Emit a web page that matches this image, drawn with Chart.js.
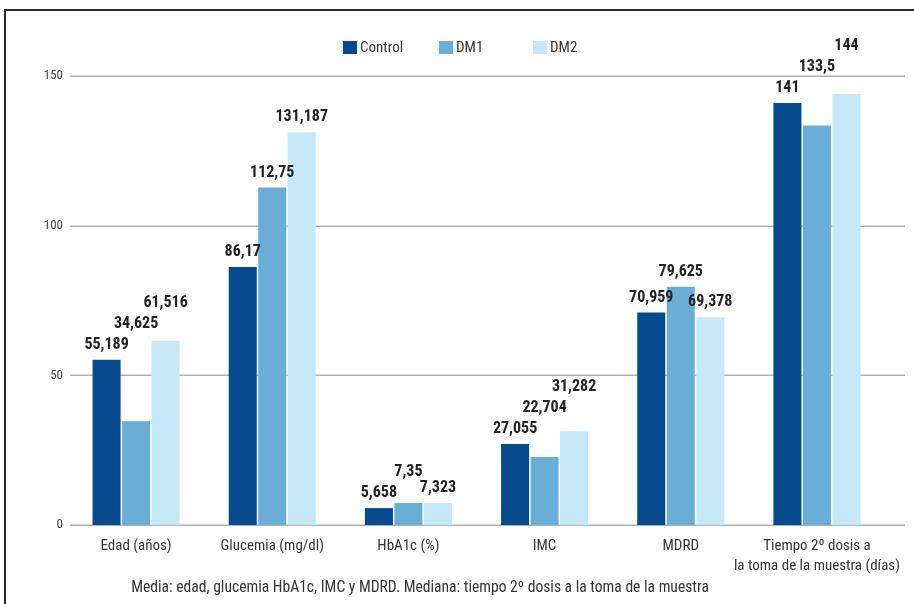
<!DOCTYPE html>
<html>
<head>
<meta charset="utf-8">
<script src="https://cdn.jsdelivr.net/npm/chart.js@4/dist/chart.umd.min.js"></script>
<style>
html,body{margin:0;padding:0;background:#fff;}
#wrap{width:914px;height:604px;position:relative;}
</style>
</head>
<body>
<div id="wrap"><canvas id="c" width="914" height="604"></canvas></div>
<script>
const categories = ['Edad (años)', 'Glucemia (mg/dl)', 'HbA1c (%)', 'IMC', 'MDRD', ['Tiempo 2º dosis a', 'la toma de la muestra (días)']];
const seriesNames = ['Control', 'DM1', 'DM2'];
const control = [55.189, 86.17, 5.658, 27.055, 70.959, 141];
const dm1 = [34.625, 112.75, 7.35, 22.704, 79.625, 133.5];
const dm2 = [61.516, 131.187, 7.323, 31.282, 69.378, 144];
const yTicks = [0, 50, 100, 150];
const footnote = 'Media: edad, glucemia HbA1c, IMC y MDRD. Mediana: tiempo 2º dosis a la toma de la muestra';

const colors = ['#034a8f', '#6aaed6', '#c6e8f8'];
const FONT = "'Liberation Sans Narrow', 'Roboto Condensed', 'DejaVu Sans Condensed', 'Arial Narrow', Roboto, sans-serif";

const fmt = v => String(v).replace('.', ',');

const decor = {
  id: 'decor',
  beforeDraw(chart) {
    const ctx = chart.ctx;
    ctx.save();
    ctx.fillStyle = '#fff';
    ctx.fillRect(0, 0, chart.width, chart.height);
    ctx.strokeStyle = '#2a2a2a';
    ctx.lineWidth = 2;
    ctx.strokeRect(5, 10, chart.width + 20, chart.height + 20);
    ctx.restore();
  },
  beforeDatasetsDraw(chart) {
    const ctx = chart.ctx, y = chart.scales.y, a = chart.chartArea;
    ctx.save();
    ctx.strokeStyle = '#b0b0b0';
    ctx.lineWidth = 1.5;
    yTicks.forEach(t => {
      const py = Math.round(y.getPixelForValue(t)) + 0.25;
      ctx.beginPath();
      ctx.moveTo(a.left + 2, py);
      ctx.lineTo(a.right + 20, py);
      ctx.stroke();
    });
    ctx.restore();
  },
  afterDatasetsDraw(chart) {
    const ctx = chart.ctx;
    ctx.save();
    ctx.font = "bold 16px " + FONT;
    ctx.fillStyle = '#222';
    ctx.textAlign = 'center';
    ctx.textBaseline = 'middle';
    const step = 21;
    for (let c = 0; c < categories.length; c++) {
      let prevY = null, prevV = null;
      chart.data.datasets.forEach((ds, i) => {
        const bar = chart.getDatasetMeta(i).data[c];
        const v = ds.data[c];
        let ly = bar.y - 15;
        if (prevY !== null && (i === 1 || v > prevV)) ly = Math.min(ly, prevY - step);
        ctx.fillText(fmt(v), bar.x, ly);
        prevY = ly; prevV = v;
      });
    }
    ctx.restore();
  },
  afterDraw(chart) {
    const ctx = chart.ctx;
    ctx.save();
    const lx = [343, 439, 533];
    ctx.font = "15px " + FONT;
    ctx.textBaseline = 'middle';
    ctx.textAlign = 'left';
    chart.data.datasets.forEach((ds, i) => {
      ctx.fillStyle = ds.backgroundColor;
      ctx.fillRect(lx[i], 41, 14, 13);
      ctx.fillStyle = '#333';
      ctx.fillText(ds.label, lx[i] + 17, 48);
    });
    ctx.font = "15.6px " + FONT;
    ctx.fillStyle = '#333';
    ctx.textAlign = 'center';
    ctx.fillText(footnote, 420, 588);
    ctx.restore();
  }
};

new Chart(document.getElementById('c'), {
  type: 'bar',
  data: {
    labels: categories,
    datasets: [
      { label: seriesNames[0], data: control, backgroundColor: colors[0] },
      { label: seriesNames[1], data: dm1, backgroundColor: colors[1] },
      { label: seriesNames[2], data: dm2, backgroundColor: colors[2] }
    ]
  },
  options: {
    responsive: false,
    animation: false,
    devicePixelRatio: 1,
    layout: { padding: { top: 76, right: 29, left: 0, bottom: 0 } },
    datasets: { bar: { categoryPercentage: 0.65, barPercentage: 0.95, borderWidth: 0 } },
    plugins: { legend: { display: false }, tooltip: { enabled: false } },
    scales: {
      y: {
        min: 0, max: 150,
        afterFit(s) { s.width = 68; },
        afterBuildTicks(s) { s.ticks = yTicks.map(v => ({ value: v })); },
        grid: { display: false, drawTicks: false },
        border: { display: false },
        ticks: { padding: 5, color: '#444', font: { family: FONT, size: 13 } }
      },
      x: {
        afterFit(s) { s.height = 79; },
        grid: { display: false, drawTicks: false },
        border: { display: false },
        ticks: { padding: 11, color: '#333', maxRotation: 0, autoSkip: false, font: { family: FONT, size: 15, lineHeight: 1.35 } }
      }
    }
  },
  plugins: [decor]
});
</script>
</body>
</html>
